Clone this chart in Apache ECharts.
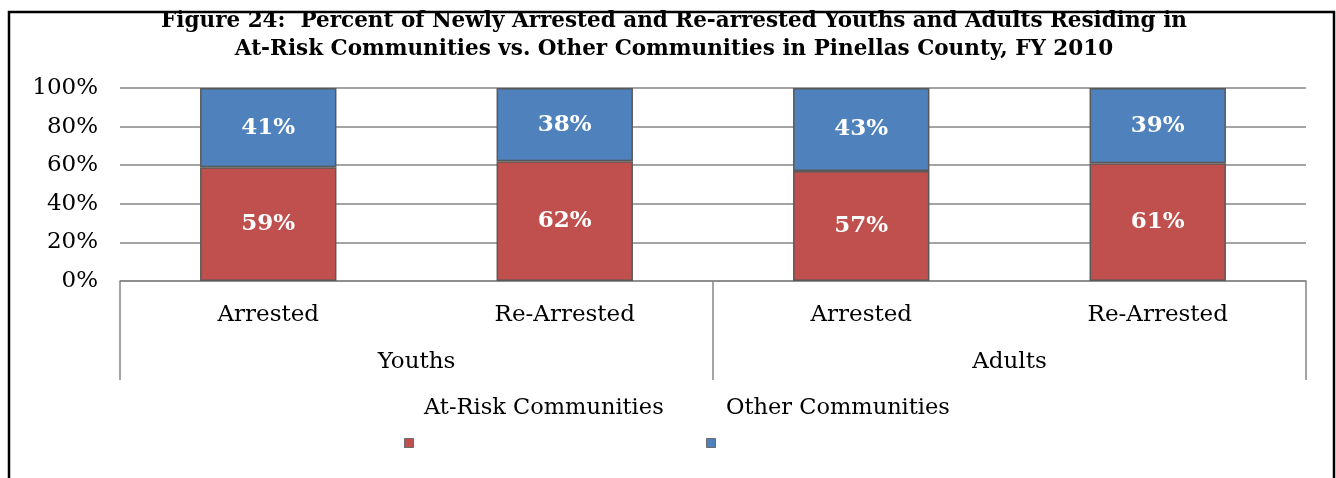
<!DOCTYPE html>
<html>
<head>
<meta charset="utf-8">
<script src="https://cdn.jsdelivr.net/npm/echarts@6/dist/echarts.min.js"></script>
<style>
html,body{margin:0;padding:0;background:#fff;}
#chart{width:1336px;height:478px;}
</style>
</head>
<body>
<div id="chart"></div>
<script>
// ---- data ----
var categories = ['Arrested', 'Re-Arrested', 'Arrested', 'Re-Arrested'];
var groups = ['Youths', 'Adults'];
var atRisk = [59, 62, 57, 61];
var other = [41, 38, 43, 39];
var seriesNames = ['At-Risk Communities', 'Other Communities'];
var yTicks = [0, 20, 40, 60, 80, 100];
var titleLines = [
  'Figure 24:  Percent of Newly Arrested and Re-arrested Youths and Adults Residing in',
  'At-Risk Communities vs. Other Communities in Pinellas County, FY 2010'
];

var FONT = 'DejaVu Serif';
var GRID = '#868686';
var chart = echarts.init(document.getElementById('chart'), null, {renderer: 'canvas'});

function textLegend(name, left) {
  return {
    data: [name], left: left, top: 396, itemWidth: 0, itemHeight: 24, padding: 0,
    icon: 'rect', itemStyle: {opacity: 0, borderWidth: 0},
    textStyle: {fontFamily: FONT, fontSize: 22.5, color: '#000', padding: 0},
    selectedMode: false
  };
}
function markerLegend(name, left) {
  return {
    data: [name], left: left, top: 438, itemWidth: 9, itemHeight: 9, padding: 0,
    icon: 'rect', formatter: function () { return ''; },
    itemStyle: {borderColor: '#6b6b6b', borderWidth: 1},
    selectedMode: false
  };
}

var option = {
  animation: false,
  backgroundColor: '#fff',
  title: {
    text: titleLines.join('\n'),
    left: 674, textAlign: 'center', top: 7, padding: 0,
    textStyle: {fontFamily: FONT, fontSize: 21.5, fontWeight: 'bold', color: '#000', lineHeight: 28},
    z: 10
  },
  graphic: [{
    type: 'rect', z: -1, silent: true,
    shape: {x: 9, y: 12, width: 1325, height: 600},
    style: {fill: 'none', stroke: '#000', lineWidth: 2.5}
  }],
  legend: [
    textLegend(seriesNames[0], 419),
    textLegend(seriesNames[1], 721),
    markerLegend(seriesNames[0], 404),
    markerLegend(seriesNames[1], 706)
  ],
  grid: {left: 120, right: 30, top: 88, bottom: 197, containLabel: false},
  xAxis: [{
    type: 'category', data: categories, position: 'bottom',
    axisLine: {show: true, lineStyle: {color: GRID, width: 1.5}},
    axisTick: {show: false},
    axisLabel: {fontFamily: FONT, fontSize: 23, color: '#000', margin: 23}
  }, {
    type: 'category', data: groups, position: 'bottom', offset: 99,
    axisLine: {show: false},
    axisTick: {show: true, inside: true, length: 99, lineStyle: {color: GRID, width: 1.5}},
    axisLabel: {inside: true, fontFamily: FONT, fontSize: 23, color: '#000', margin: 6}
  }],
  yAxis: {
    type: 'value', min: yTicks[0], max: yTicks[yTicks.length - 1], interval: 20,
    axisLine: {show: false}, axisTick: {show: false},
    axisLabel: {fontFamily: FONT, fontSize: 23, color: '#000', margin: 22, formatter: '{value}%'},
    splitLine: {lineStyle: {color: GRID, width: 1.5}}
  },
  series: [{
    name: seriesNames[0], type: 'bar', stack: 'total', data: atRisk, barWidth: '46%',
    itemStyle: {color: '#C0504D', borderColor: '#595959', borderWidth: 1.5},
    label: {show: true, position: 'inside', formatter: '{c}%', color: '#fff',
      fontFamily: FONT, fontSize: 23, fontWeight: 'bold'}
  }, {
    name: seriesNames[1], type: 'bar', stack: 'total', data: other, barWidth: '46%',
    itemStyle: {color: '#4F81BD', borderColor: '#595959', borderWidth: 1.5},
    label: {show: true, position: 'inside', formatter: '{c}%', color: '#fff',
      fontFamily: FONT, fontSize: 23, fontWeight: 'bold'}
  }]
};
chart.setOption(option);
</script>
</body>
</html>
